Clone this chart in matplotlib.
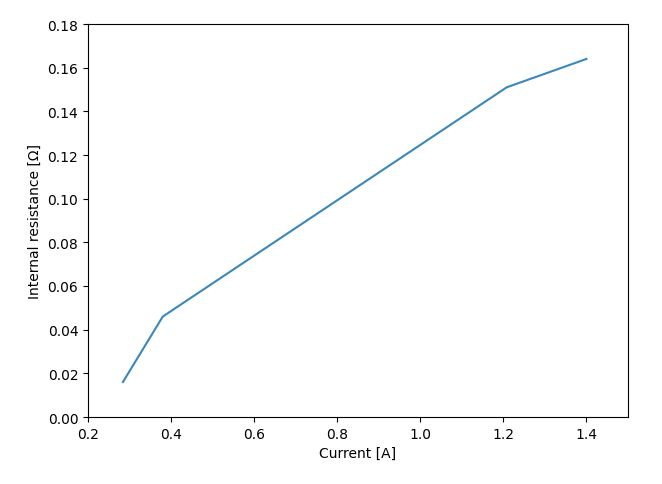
import matplotlib
matplotlib.use("Agg")
import matplotlib.pyplot as plt

current = [0.284, 0.38, 1.208, 1.40]
resistance = [0.016, 0.046, 0.151, 0.164]

fig = plt.figure(figsize=(6.62, 4.85), dpi=100)
ax = fig.add_axes([88/662, 1-418/485, (628-88)/662, (418-25)/485])
ax.plot(current, resistance, color="#3a87be", linewidth=1.5)
ax.set_xlim(0.2, 1.5)
ax.set_ylim(0, 0.18)
ax.set_xlabel("Current [A]")
ax.set_ylabel("Internal resistance [Ω]")
fig.savefig("out.png", dpi=100)
